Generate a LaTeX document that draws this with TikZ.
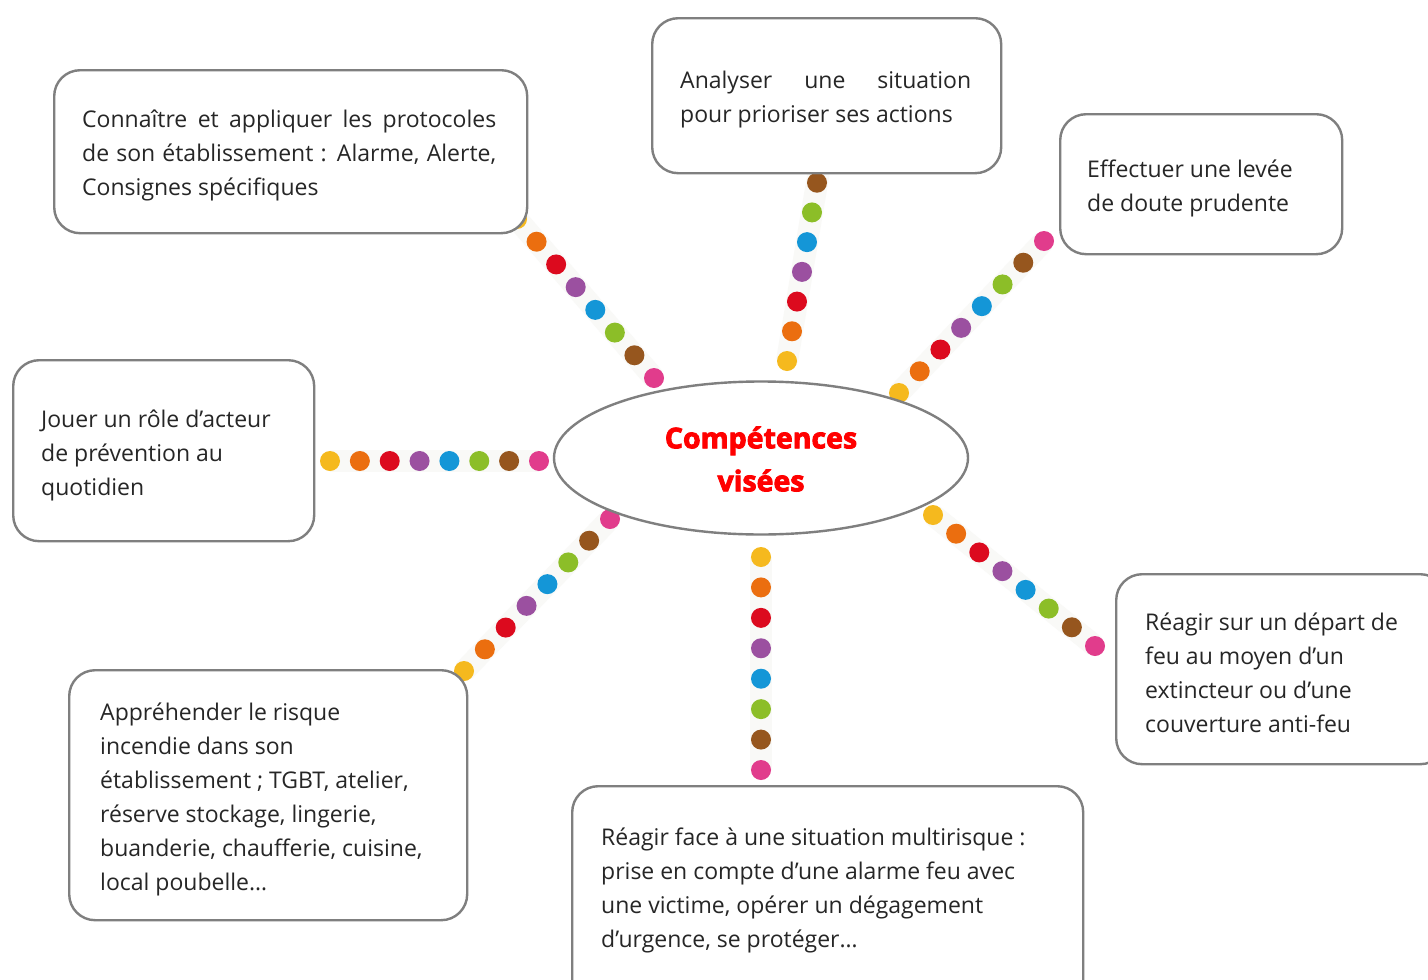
\documentclass[tikz,border=0pt]{standalone}
\usepackage{fontspec}
\setmainfont{Open Sans}
\newfontfamily\titlefont{Open Sans}[BoldFeatures={FakeBold=3}]
\usetikzlibrary{calc,shapes.geometric}
\definecolor{dY}{HTML}{F5B91E}
\definecolor{dO}{HTML}{EB6E0F}
\definecolor{dR}{HTML}{DC0A1E}
\definecolor{dV}{HTML}{9B50A0}
\definecolor{dB}{HTML}{1496D7}
\definecolor{dG}{HTML}{8CBE28}
\definecolor{dN}{HTML}{96561E}
\definecolor{dP}{HTML}{E13C8C}
\definecolor{boxgray}{HTML}{7F7F7F}
\definecolor{bandgray}{HTML}{F9F9F7}
\definecolor{titlered}{HTML}{FF0000}
\tikzset{
  box/.style={draw=boxgray, line width=2.4pt, rounded corners=26pt, fill=white, inner sep=0pt, anchor=north west},
  txt/.style={anchor=west, align=left, font=\fontsize{23}{34}\selectfont, inner sep=0pt, text=black!85},
  dot/.style={circle, fill=#1, minimum size=20pt, inner sep=0pt},
  band/.style={line width=22pt, draw=bandgray},
  hub/.style={ellipse, draw=boxgray, line width=2.4pt, fill=white, minimum width=414pt, minimum height=153pt, inner sep=0pt}
}
\newcommand{\chain}[3]{%
  \coordinate (#1s) at #2;
  \coordinate (#1e) at #3;
  \draw[band] (#1s) -- (#1e);
  \foreach \c [count=\i from 0] in {dY,dO,dR,dV,dB,dG,dN,dP}{
    \node[dot=\c] (#1\i) at ($(#1s)!\i/7!(#1e)$) {};
  }
}
\begin{document}
\begin{tikzpicture}[x=1pt,y=-1pt]
\useasboundingbox (0,0) rectangle (1428,980);
\clip (0,0) rectangle (1428,980);
\fill[white] (0,0) rectangle (1428,980);
% dotted connectors
\chain{A}{(517,219)}{(654,378)}
\chain{B}{(787,361)}{(822,153)}
\chain{C}{(899,393)}{(1044,241)}
\chain{D}{(330,461)}{(539,461)}
\chain{E}{(464,671)}{(610,519)}
\chain{F}{(761,557)}{(761,770)}
\chain{G}{(933,515)}{(1095,646)}
% hub
\node[hub] (hub) at (761,458) {};
\node[font=\titlefont\bfseries\fontsize{28.5}{43}\selectfont, text=titlered, align=center, inner sep=0pt] (title) at (761,459) {Compétences\\visées};
% boxes
\node[box, minimum width=473pt, minimum height=163pt] (b1) at (53,69) {};
\node[txt] (t1) at (82,155) {\makebox[414pt][s]{Connaître et appliquer les protocoles}\\\makebox[414pt][s]{de son établissement : Alarme, Alerte,}\\Consignes spécifiques};
\node[box, minimum width=349pt, minimum height=155pt] (b2) at (651,17) {};
\node[txt] (t2) at (680,100) {\makebox[291pt][s]{Analyser une situation}\\pour prioriser ses actions};
\node[box, minimum width=282pt, minimum height=140pt] (b3) at (1059,113) {};
\node[txt] (t3) at (1087,188) {Effectuer une levée\\de doute prudente};
\node[box, minimum width=301pt, minimum height=181pt] (b4) at (12,359) {};
\node[txt] (t4) at (41,455) {Jouer un rôle d’acteur\\de prévention au\\quotidien};
\node[box, minimum width=398pt, minimum height=250pt] (b5) at (68,669) {};
\node[txt] (t5) at (100,799) {Appréhender le risque\\incendie dans son\\établissement ; TGBT, atelier,\\réserve stockage, lingerie,\\buanderie, chaufferie, cuisine,\\local poubelle…};
\node[box, minimum width=511pt, minimum height=220pt] (b6) at (571,785) {};
\node[txt] (t6) at (601,890) {Réagir face à une situation multirisque :\\prise en compte d’une alarme feu avec\\une victime, opérer un dégagement\\d’urgence, se protéger…};
\node[box, minimum width=330pt, minimum height=190pt] (b7) at (1115,573) {};
\node[txt] (t7) at (1145,673) {Réagir sur un départ de\\feu au moyen d’un\\extincteur ou d’une\\couverture anti-feu};
\end{tikzpicture}
\end{document}
